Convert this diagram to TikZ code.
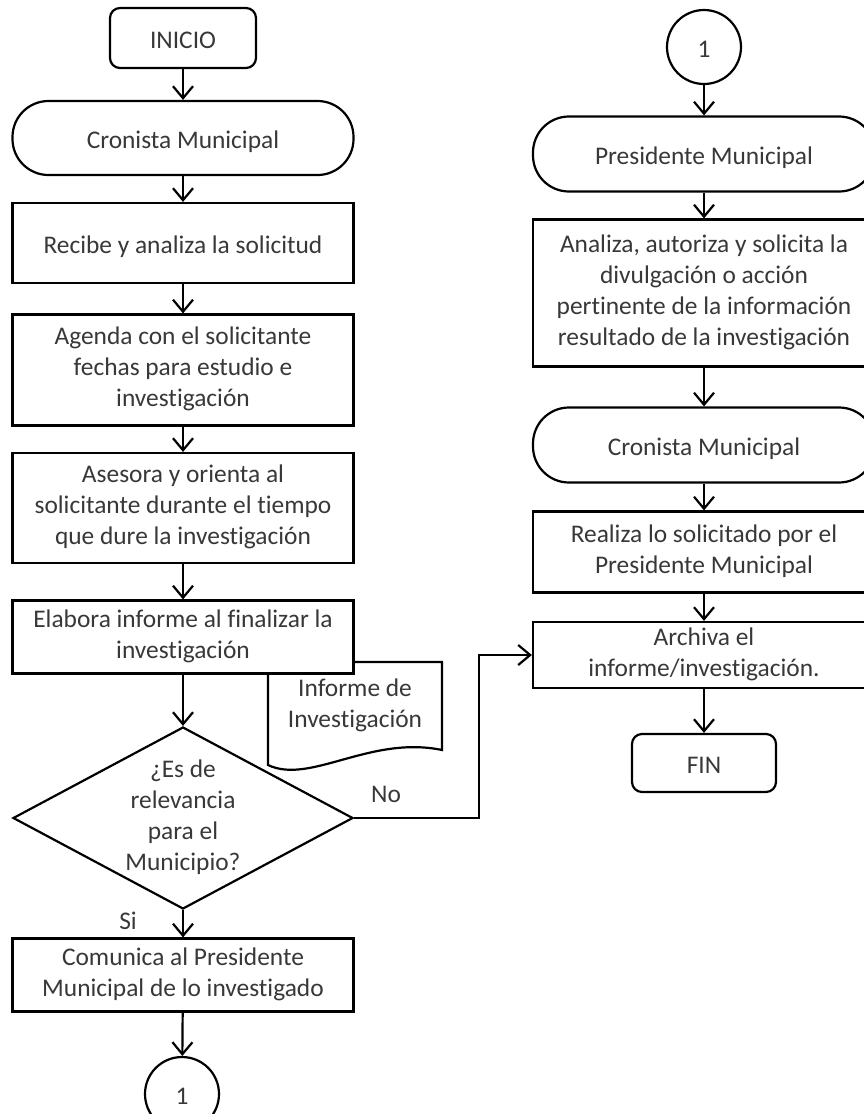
\documentclass[tikz,border=0pt]{standalone}
\usepackage{fontspec}
\setmainfont{Carlito}[Ligatures=NoCommon]
\usetikzlibrary{arrows.meta,shapes.geometric}
\begin{document}
\begin{tikzpicture}[x=1pt,y=-1pt,
  line width=2.2pt,
  >={Straight Barb[length=12pt,width=20pt]},
  every node/.style={font=\fontsize{25.4}{31}\selectfont, text=black!78, align=center, inner sep=0pt,
    execute at begin node={\rule{0pt}{26pt}}, execute at end node={\rule[-6pt]{0pt}{0pt}}},
  proc/.style={draw, fill=white, rectangle, minimum width=341pt},
  term/.style={draw, fill=white, rectangle, rounded corners=36pt, minimum width=341pt, minimum height=74pt},
  endpt/.style={draw, fill=white, rectangle, rounded corners=10pt},
  conn/.style={draw, fill=white, circle, minimum size=74pt},
  flow/.style={->}]
\useasboundingbox (0,0) rectangle (864,1114);

% left column
\node[endpt, minimum width=146pt, minimum height=60pt] (inicio) at (183,38) {INICIO};
\node[term] (cron1) at (183,138) {Cronista Municipal};
\node[proc, minimum height=80pt] (recibe) at (183,243) {Recibe y analiza la solicitud};
\node[proc, minimum height=111pt] (agenda) at (183,370) {Agenda con el solicitante\\fechas para estudio e\\investigación};
\node[proc, minimum height=110pt] (asesora) at (183,508) {Asesora y orienta al\\solicitante durante el tiempo\\que dure la investigación};

% document symbol, partly behind the next box
\draw[fill=white] (268,662) -- (268,765) .. controls (310,785) and (370,735) .. (442,750) -- (442,662) -- cycle;
\node (doc) at (355,706) {Informe de\\Investigación};

\node[proc, minimum height=73pt] (elabora) at (183,637) {Elabora informe al finalizar la\\investigación};
\node[draw, diamond, minimum width=340pt, minimum height=182pt] (dec) at (183,818) {};
\node at (183,818) {¿Es de\\relevancia\\para el\\Municipio?};
\node[proc, minimum height=73pt] (comunica) at (183,975) {Comunica al Presidente\\Municipal de lo investigado};
\node[conn] (c1) at (182,1094) {1};

% right column
\node[conn] (c2) at (704,47) {1};
\node[term, minimum width=342pt, minimum height=75pt] (pres) at (704,154) {Presidente Municipal};
\node[proc, minimum width=342pt, minimum height=147pt] (analiza) at (704,293) {Analiza, autoriza y solicita la\\divulgación o acción\\pertinente de la información\\resultado de la investigación};
\node[term, minimum width=342pt, minimum height=75pt] (cron2) at (704,445) {Cronista Municipal};
\node[proc, minimum width=342pt, minimum height=81pt] (realiza) at (704,552) {Realiza lo solicitado por el\\Presidente Municipal};
\node[proc, minimum width=342pt, minimum height=66pt] (archiva) at (704,655) {Archiva el\\informe/investigación.};
\node[endpt, minimum width=144pt, minimum height=58pt] (fin) at (704,763) {FIN};

% connectors
\draw[flow] (inicio) -- (cron1);
\draw[flow] (cron1) -- (recibe);
\draw[flow] (recibe) -- (agenda);
\draw[flow] (agenda) -- (asesora);
\draw[flow] (asesora) -- (elabora);
\draw[flow] (elabora) -- (dec.north);
\draw[flow] (dec.south) -- (comunica);
\draw[flow] (comunica) -- (c1);
\coordinate (bend) at (479,818);
\draw[flow] (dec.east) -- (bend) |- (archiva.west);
\node (si) at (128,919) {Si};
\node (no) at (386,792) {No};

\draw[flow] (c2) -- (pres);
\draw[flow] (pres) -- (analiza);
\draw[flow] (analiza) -- (cron2);
\draw[flow] (cron2) -- (realiza);
\draw[flow] (realiza) -- (archiva);
\draw[flow] (archiva) -- (fin);
\end{tikzpicture}
\end{document}
